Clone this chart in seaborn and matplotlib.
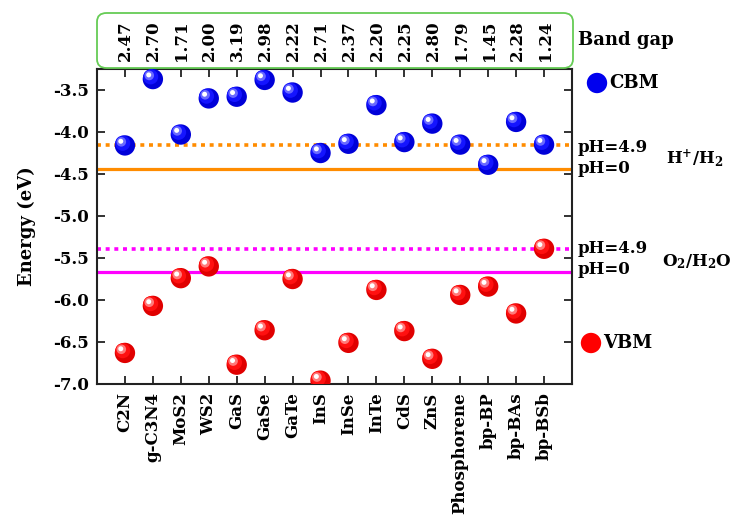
import matplotlib
matplotlib.use("Agg")
import matplotlib.pyplot as plt
import matplotlib.transforms as mtransforms
from matplotlib.patches import FancyBboxPatch
import seaborn as sns
import pandas as pd

materials = ["C2N", "g-C3N4", "MoS2", "WS2", "GaS", "GaSe", "GaTe", "InS", "InSe",
             "InTe", "CdS", "ZnS", "Phosphorene", "bp-BP", "bp-BAs", "bp-BSb"]
cbm = [-4.16, -3.37, -4.03, -3.60, -3.58, -3.38, -3.53, -4.25, -4.14,
       -3.68, -4.12, -3.90, -4.15, -4.39, -3.88, -4.15]
vbm = [-6.63, -6.07, -5.74, -5.60, -6.77, -6.36, -5.75, -6.96, -6.51,
       -5.88, -6.37, -6.70, -5.94, -5.84, -6.16, -5.39]
band_gap = ["2.47", "2.70", "1.71", "2.00", "3.19", "2.98", "2.22", "2.71", "2.37",
            "2.20", "2.25", "2.80", "1.79", "1.45", "2.28", "1.24"]
h_ph0, h_ph49 = -4.44, -4.16
o_ph0, o_ph49 = -5.67, -5.39
yticks = [-7.0, -6.5, -6.0, -5.5, -5.0, -4.5, -4.0, -3.5]

sns.set_style("ticks")
plt.rcParams["font.family"] = ["DejaVu Serif"]
plt.rcParams["font.weight"] = "bold"
plt.rcParams["mathtext.fontset"] = "dejavuserif"
plt.rcParams["mathtext.default"] = "bf"
for k in ["text.color", "axes.labelcolor", "xtick.color", "ytick.color"]:
    plt.rcParams[k] = "black"

df = pd.DataFrame({"x": range(len(materials)), "cbm": cbm, "vbm": vbm})

W, H = 743, 527
fig = plt.figure(figsize=(W / 100, H / 100), dpi=100)
ax = fig.add_axes([97 / W, 1 - 384 / H, 475 / W, 315 / H])

# reference lines
ax.axhline(h_ph0, color="#ff8c00", lw=2.3, zorder=1)
ax.axhline(h_ph49, color="#ff8c00", lw=2.6, ls=(0, (1.1, 1.3)), zorder=1)
ax.axhline(o_ph0, color="#ff00ff", lw=2.3, zorder=1)
ax.axhline(o_ph49, color="#ff00ff", lw=2.6, ls=(0, (1.1, 1.3)), zorder=1)

S = 215
def sphere(col, base, mid, light):
    sns.scatterplot(data=df, x="x", y=col, ax=ax, s=S, color=base, edgecolor="none",
                    linewidth=0, zorder=3, legend=False, clip_on=True)
    for size, c, dx, dy in [(S * 0.55, mid, -1.6, 1.6), (S * 0.22, light, -2.6, 2.6),
                            (S * 0.06, "white", -3.0, 3.0)]:
        off = mtransforms.ScaledTranslation(dx / 72, dy / 72, fig.dpi_scale_trans)
        ax.scatter(df["x"], df[col], s=size, color=c, edgecolor="none",
                   zorder=4, transform=ax.transData + off)

sphere("cbm", "#0000d8", "#1414ff", "#6a6aff")
sphere("vbm", "#e00000", "#ff1010", "#ff7a7a")

ax.set_xlim(-1, len(materials))
ax.set_ylim(-7.0, -3.25)
ax.set_yticks(yticks)
ax.set_yticklabels([f"{v:.1f}" for v in yticks], fontsize=12, fontweight="bold")
ax.set_xticks(range(len(materials)))
ax.set_xticklabels(materials, rotation=90, fontsize=12, fontweight="bold")
ax.tick_params(direction="in", top=True, right=True, length=6, width=1.3, color="#222222", pad=6)
ax.set_xlabel("")
ax.set_ylabel("Energy (eV)", fontsize=13, fontweight="bold", labelpad=12)
for sp in ax.spines.values():
    sp.set_linewidth(1.5)
    sp.set_color("#222222")

# band gap box
ax2 = fig.add_axes([97 / W, 1 - 68 / H, 476 / W, 55 / H])
ax2.set_xlim(-1, len(materials))
ax2.set_ylim(0, 1)
ax2.axis("off")
box = FancyBboxPatch((0.0, 0.0), 1.0, 1.0, boxstyle="round,pad=0,rounding_size=0.02",
                     transform=ax2.transAxes, fill=False, edgecolor="#66cc55", lw=1.3,
                     clip_on=False, mutation_aspect=8)
ax2.add_patch(box)
for i, g in enumerate(band_gap):
    ax2.text(i, 0.5, g, rotation=90, ha="center", va="center", fontsize=12, fontweight="bold")

def ftext(x, y, s, **kw):
    fig.text(x / W, 1 - y / H, s, fontweight="bold", va="center", **kw)

ftext(578, 40, "Band gap", fontsize=13)
ax3 = fig.add_axes([0, 0, 1, 1], facecolor="none")
ax3.set_xlim(0, W)
ax3.set_ylim(H, 0)
ax3.axis("off")
ax3.scatter([597], [83], s=215, color="#0000ee", edgecolor="none")
ax3.scatter([591], [343], s=215, color="#ff0000", edgecolor="none")
ftext(609, 83, "CBM", fontsize=13)
ftext(603, 343, "VBM", fontsize=13)
ftext(578, 147, "pH=4.9", fontsize=12)
ftext(578, 168, "pH=0", fontsize=12)
ftext(666, 158, "H$^{+}$/H$_{2}$", fontsize=12)
ftext(578, 249, "pH=4.9", fontsize=12)
ftext(578, 270, "pH=0", fontsize=12)
ftext(662, 262, "O$_{2}$/H$_{2}$O", fontsize=12)

fig.savefig("out.png", dpi=100)
